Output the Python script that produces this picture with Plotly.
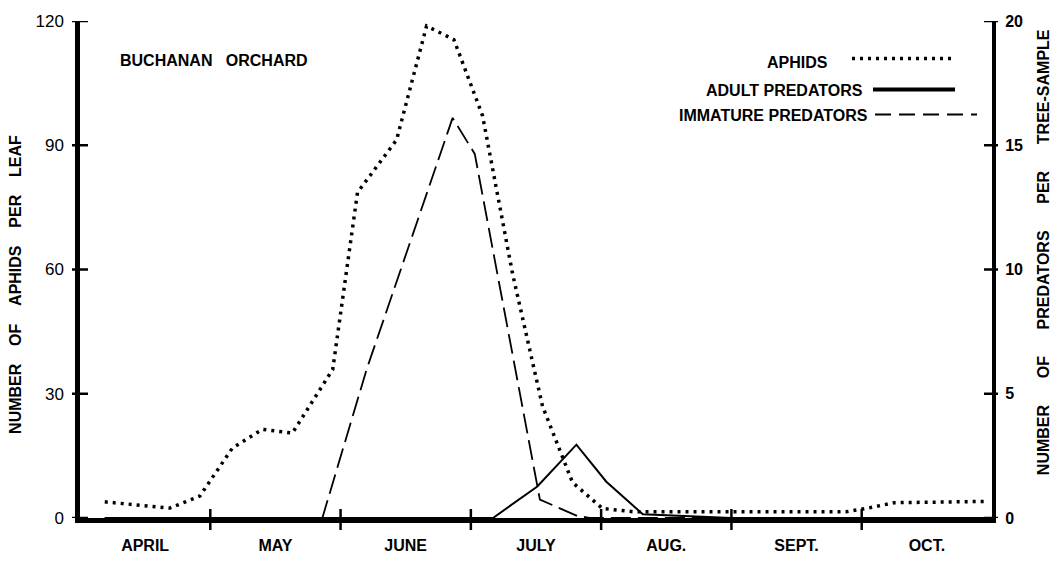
import plotly.graph_objects as go

# Time axis in months since 1 April (0 = Apr 1, 7 = Nov 1)
months = ["APRIL", "MAY", "JUNE", "JULY", "AUG.", "SEPT.", "OCT."]
month_bounds = [1, 2, 3, 4, 5, 6]
month_centers = [0.5, 1.5, 2.5, 3.5, 4.5, 5.5, 6.5]

# Aphids per leaf (left axis)
aphid_t = [0.19, 0.69, 0.92, 1.17, 1.40, 1.63, 1.94, 2.13, 2.43, 2.66, 2.87,
           3.09, 3.32, 3.55, 3.78, 4.01, 4.25, 4.48, 4.72, 4.95, 5.18, 5.42,
           5.65, 5.88, 6.05, 6.25, 6.50, 6.75, 6.95]
aphid_n = [3.9, 2.4, 5.3, 16.9, 21.4, 20.5, 35.9, 78.6, 91.3, 118.8, 115.5,
           97.1, 59.0, 27.0, 8.6, 2.3, 1.5, 1.5, 1.5, 1.6, 1.5, 1.5,
           1.5, 1.5, 2.4, 3.7, 3.8, 3.9, 4.0]

# Adult predators per tree-sample (right axis)
adult_t = [0.19, 1.0, 2.0, 3.0, 3.17, 3.51, 3.81, 4.04, 4.32, 5.0, 6.0, 6.95]
adult_n = [0, 0, 0, 0, 0, 1.27, 2.95, 1.46, 0.15, 0, 0, 0]

# Immature predators per tree-sample (right axis)
imm_t = [0.19, 1.0, 1.86, 2.20, 2.86, 3.03, 3.53, 3.81, 3.91, 5.0, 6.0, 6.95]
imm_n = [0, 0, 0, 5.98, 16.1, 14.65, 0.74, 0.1, 0, 0, 0, 0]

left_ticks = [0, 30, 60, 90, 120]
right_ticks = [0, 5, 10, 15, 20]

W, H = 1058, 566
ML, MR, MT, MB = 80, 66, 15, 35
PW, PH = W - ML - MR, H - MT - MB


def px(x):
    return (x - ML) / PW


def py(y):
    return (H - MB - y) / PH


FONT = "Liberation Sans"
bold16 = dict(family=FONT, size=16, color="black", weight="bold")
DOT = "3px,5px"
DASH = "20px,7px"

fig = go.Figure()
fig.add_trace(go.Scatter(x=aphid_t, y=aphid_n, mode="lines", yaxis="y",
                         line=dict(color="black", width=3.5, dash=DOT),
                         showlegend=False, hoverinfo="skip"))
fig.add_trace(go.Scatter(x=imm_t, y=imm_n, mode="lines", yaxis="y2",
                         line=dict(color="black", width=1.8, dash=DASH),
                         showlegend=False, hoverinfo="skip"))
fig.add_trace(go.Scatter(x=adult_t, y=adult_n, mode="lines", yaxis="y2",
                         line=dict(color="black", width=2),
                         showlegend=False, hoverinfo="skip"))

shapes = []
# tick marks crossing the axis lines
for v in left_ticks:
    shapes.append(dict(type="line", xref="paper", xsizemode="pixel", xanchor=0,
                       x0=-8, x1=8, yref="y", y0=v, y1=v,
                       line=dict(color="black", width=2.5)))
for v in right_ticks:
    shapes.append(dict(type="line", xref="paper", xsizemode="pixel", xanchor=1,
                       x0=-8, x1=6, yref="y2", y0=v, y1=v,
                       line=dict(color="black", width=2.5)))
for b in month_bounds:
    shapes.append(dict(type="line", xref="x", x0=b, x1=b, yref="paper",
                       ysizemode="pixel", yanchor=0, y0=-12, y1=9,
                       line=dict(color="black", width=2.5)))

# legend keys
shapes.append(dict(type="line", xref="paper", yref="paper",
                   x0=px(852), x1=px(955), y0=py(54), y1=py(54),
                   line=dict(color="black", width=3.5, dash=DOT)))
shapes.append(dict(type="line", xref="paper", yref="paper",
                   x0=px(873), x1=px(955), y0=py(86), y1=py(86),
                   line=dict(color="black", width=4)))
shapes.append(dict(type="line", xref="paper", yref="paper",
                   x0=px(875), x1=px(977), y0=py(112), y1=py(112),
                   line=dict(color="black", width=2, dash="16px,8px")))

sp = "\u00a0"
annotations = [
    dict(text="BUCHANAN" + sp * 3 + "ORCHARD", x=px(118), y=py(56),
         xanchor="left", yanchor="middle", font=bold16),
    dict(text="APHIDS", x=px(830), y=py(58), xanchor="right", yanchor="middle",
         font=bold16),
    dict(text="ADULT" + sp + "PREDATORS", x=px(865), y=py(87), xanchor="right",
         yanchor="middle", font=bold16),
    dict(text="IMMATURE" + sp + "PREDATORS", x=px(870), y=py(113),
         xanchor="right", yanchor="middle", font=bold16),
    dict(text=(sp * 4).join(["NUMBER", "OF", "APHIDS", "PER", "LEAF"]),
         x=px(16), y=py(289), textangle=-90, xanchor="center",
         yanchor="middle", font=bold16),
    dict(text=(sp * 6).join(["NUMBER", "OF", "PREDATORS", "PER", "TREE-SAMPLE"]),
         x=px(1043), y=py(255), textangle=-90, xanchor="center",
         yanchor="middle", font=bold16),
]
for a in annotations:
    a.update(xref="paper", yref="paper", showarrow=False)

fig.update_layout(
    width=W, height=H,
    margin=dict(l=ML, r=MR, t=MT, b=MB, pad=0),
    paper_bgcolor="white", plot_bgcolor="white",
    showlegend=False,
    xaxis=dict(range=[0, 7], tickvals=month_centers, ticktext=months,
               ticks="", showgrid=False, zeroline=False, showline=True,
               linecolor="black", linewidth=4.5, tickfont=bold16,
               ticklabelstandoff=9, fixedrange=True),
    yaxis=dict(range=[0, 120], tickvals=left_ticks, ticks="", showgrid=False,
               zeroline=False, showline=True, linecolor="black", linewidth=4.5,
               tickfont=dict(family=FONT, size=17, color="black"),
               ticklabelstandoff=8, fixedrange=True),
    yaxis2=dict(range=[0, 20], tickvals=right_ticks, ticks="", overlaying="y",
                side="right", showgrid=False, zeroline=False, showline=True,
                linecolor="black", linewidth=4, tickfont=bold16,
                ticklabelstandoff=6, fixedrange=True),
    shapes=shapes,
    annotations=annotations,
)

fig.write_html("out.html")
